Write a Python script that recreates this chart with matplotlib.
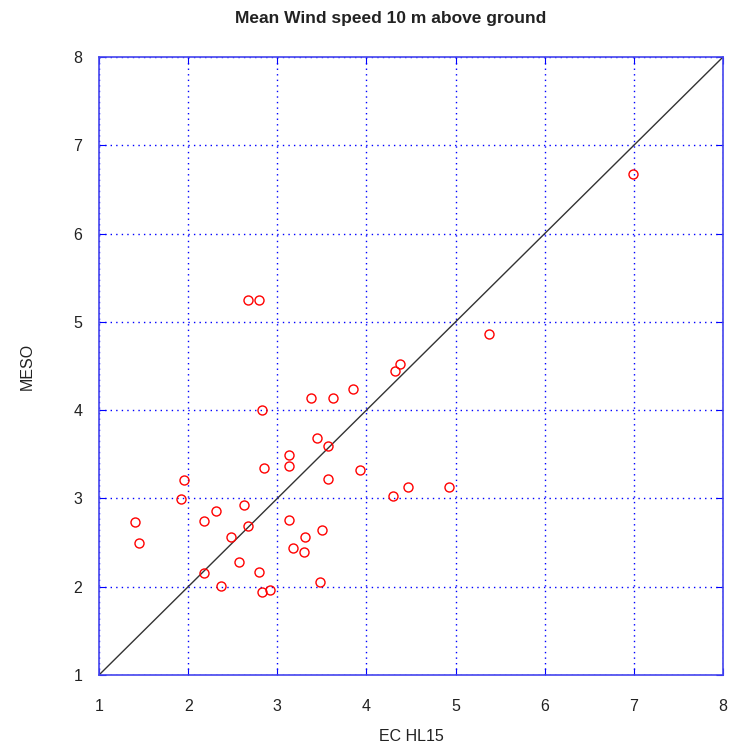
import numpy as np
import matplotlib.pyplot as plt

plt.rcParams['font.family'] = ['Liberation Sans', 'DejaVu Sans']

# scatter values (EC HL15 vs MESO)
ec_hl15 = [6.99, 5.38, 2.67, 2.80, 4.38, 4.32, 3.85, 3.38, 3.63, 2.83,
           3.44, 3.57, 3.13, 3.13, 2.85, 3.93, 1.95, 3.57, 1.92, 2.63,
           2.31, 4.93, 4.47, 4.30, 1.40, 2.18, 2.67, 3.13, 2.48, 1.45,
           3.31, 3.50, 3.18, 3.30, 2.57, 2.18, 2.80, 2.37, 3.48, 2.83, 2.92]
meso = [6.67, 4.86, 5.25, 5.25, 4.52, 4.44, 4.24, 4.14, 4.14, 4.00,
        3.68, 3.59, 3.49, 3.37, 3.34, 3.32, 3.21, 3.22, 2.99, 2.93,
        2.86, 3.13, 3.13, 3.03, 2.73, 2.74, 2.69, 2.76, 2.56, 2.49,
        2.56, 2.64, 2.44, 2.39, 2.28, 2.16, 2.17, 2.01, 2.05, 1.94, 1.96]

ticks = [1, 2, 3, 4, 5, 6, 7, 8]
one_to_one = [1, 8]

fig = plt.figure(figsize=(7.3, 7.48), dpi=100)
ax = fig.add_axes([99/730, 1 - 675/748, 624/730, 618/748])

ax.plot(one_to_one, one_to_one, color='#333333', lw=1.0, zorder=2)
ax.plot(ec_hl15, meso, 'o', mfc='none', mec='red', ms=6.5, mew=1.0, zorder=3)

ax.set_xlim(1, 8)
ax.set_ylim(1, 8)
ax.set_xticks(ticks)
ax.set_yticks(ticks)
ax.grid(True, color='blue', linestyle=(0, (1, 3)), lw=1.0)

for s in ax.spines.values():
    s.set_color('#4444ee')
    s.set_linewidth(1.2)
ax.tick_params(direction='in', length=5, color='blue', top=True, right=True,
               labelsize=11.5, labelcolor='#222222')
ax.tick_params(axis='x', pad=17)
ax.tick_params(axis='y', pad=12)

ax.set_xlabel('EC HL15', fontsize=11.5, color='#222222', labelpad=11)
ax.set_ylabel('MESO', fontsize=11.5, color='#222222', labelpad=28)
fig.text(391/730, 1 - 18/748, 'Mean Wind speed 10 m above ground',
         ha='center', va='center', fontsize=12.5, fontweight='bold', color='#222222')

fig.savefig('out.png', dpi=100)
